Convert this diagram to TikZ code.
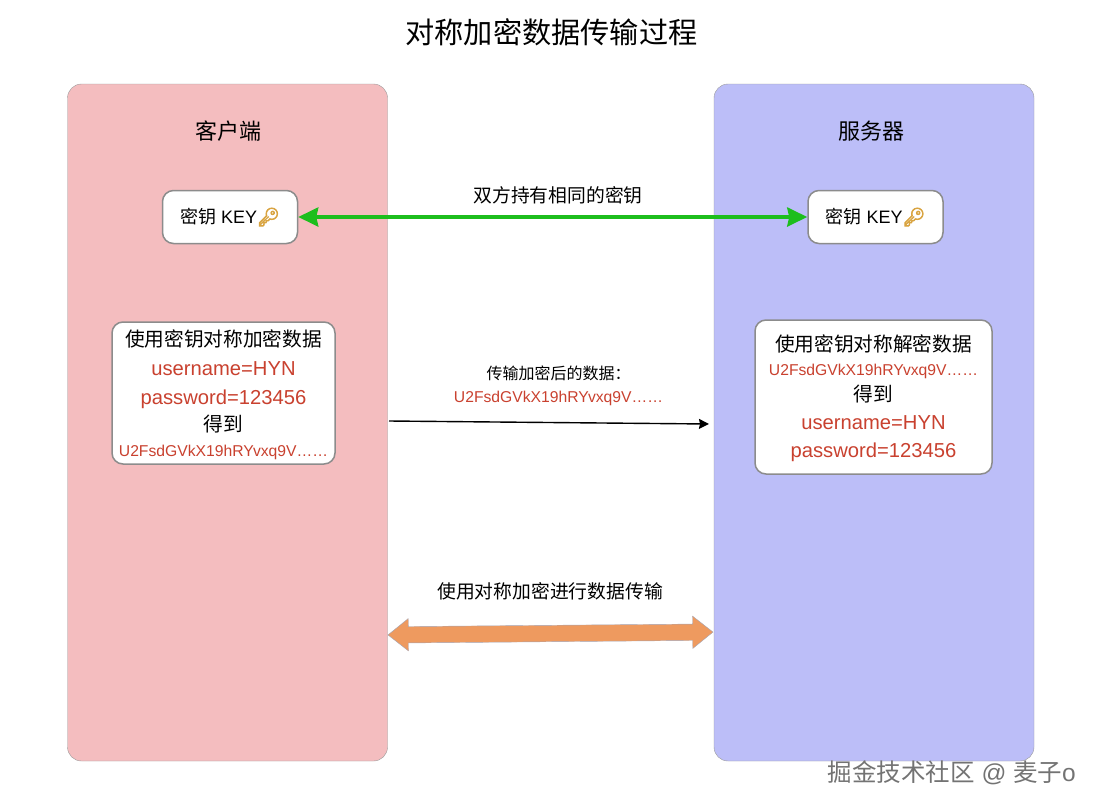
\documentclass[tikz,border=0pt]{standalone}
\usepackage{xcolor}
\usepackage{fontspec}
\setmainfont{Liberation Sans}
\newfontfamily\cjk{Noto Sans CJK SC}
\newfontfamily\emojifont[FakeBold=4]{Noto Emoji}
\usetikzlibrary{positioning,arrows.meta,shapes.arrows}
\definecolor{symPink}{HTML}{F4BDBF}
\definecolor{symBlue}{HTML}{BCBEF8}
\definecolor{symEdge}{HTML}{9A9A9A}
\definecolor{symBorder}{HTML}{8C8C8C}
\definecolor{symGreen}{HTML}{1DBE1D}
\definecolor{symRed}{HTML}{C9412F}
\definecolor{symOrange}{HTML}{EE9A5F}
\definecolor{symGold}{HTML}{D9A441}
\newcommand{\cn}[1]{{\cjk #1}}
\newcommand{\secret}[1]{{\fontsize{15.7}{26}\selectfont\color{symRed}#1}}
\newcommand{\plain}[1]{{\fontsize{20.2}{28}\selectfont\color{symRed}#1}}
\newcommand{\keyicon}{{\emojifont\color{symGold}\symbol{"1F511}}}
\tikzset{
  panel/.style={draw=symEdge,rounded corners=14pt,minimum width=320pt,minimum height=677pt,inner sep=0pt},
  keybox/.style={draw=symBorder,line width=1.5pt,fill=white,rounded corners=11pt,minimum width=135pt,minimum height=53pt,inner sep=0pt,font=\fontsize{18}{22}\selectfont},
  databox/.style={draw=symBorder,line width=1.5pt,fill=white,rounded corners=11pt,inner sep=0pt,align=center,font=\fontsize{19.7}{28}\selectfont},
  caption/.style={inner sep=0pt,font=\fontsize{18.8}{22}\selectfont}
}

\begin{document}
\begin{tikzpicture}[x=1pt,y=-1pt]
  \useasboundingbox (0,0) rectangle (1098,809);
  \node[inner sep=0pt,font=\fontsize{29.2}{34}\selectfont] (heading) at (551.5,32) {\cn{对称加密数据传输过程}};
  \node[panel,fill=symPink] (client) at (227.5,422.5) {};
  \node[panel,fill=symBlue] (server) at (874,422.5) {};
  \node[inner sep=0pt,font=\fontsize{22}{26}\selectfont] (clientTitle) at (228.5,131) {\cn{客户端}};
  \node[inner sep=0pt,font=\fontsize{22}{26}\selectfont] (serverTitle) at (871,131) {\cn{服务器}};
  \node[keybox] (clientKey) at (230,217) {\cn{密钥} KEY\keyicon};
  \node[keybox,right=509pt of clientKey] (serverKey) {\cn{密钥} KEY\keyicon};
  \node[databox,minimum width=223pt,minimum height=142pt] (clientData) at (223.5,393) {%
    \rule{0pt}{21pt}\cn{使用密钥对称加密数据}\\[1pt]
    \plain{username=HYN}\\[1pt]
    \plain{password=123456}\\[-1pt]
    \cn{得到}\\[-3pt]
    \secret{U2FsdGVkX19hRYvxq9V……}};
  \node[databox,minimum width=237pt,minimum height=154pt] (serverData) at (873.5,397) {%
    \rule{0pt}{20pt}\cn{使用密钥对称解密数据}\\[-4pt]
    \secret{U2FsdGVkX19hRYvxq9V……}\\[-2pt]
    \cn{得到}\\
    \plain{username=HYN}\\
    \plain{password=123456}};
  \node[caption] (shareLabel) at (558,195) {\cn{双方持有相同的密钥}};
  \node[inner sep=0pt,align=center,font=\fontsize{16}{23}\selectfont] (sendLabel) at (558.5,385.5) {%
    \cn{传输加密后的数据：}\\ \secret{U2FsdGVkX19hRYvxq9V……}};
  \node[caption] (transferLabel) at (550,591) {\cn{使用对称加密进行数据传输}};
  \coordinate (sendStart) at (389,421);
  \coordinate (sendEnd) at (709,424);
  \draw[-{Stealth[length=10pt,width=10pt,inset=1pt]},line width=1.4pt] (sendStart) -- (sendEnd);
  \draw[{Stealth[length=20pt,width=19pt,inset=2pt]}-{Stealth[length=20pt,width=19pt,inset=2pt]},symGreen,line width=3.5pt] (clientKey) -- (serverKey);
  \node[double arrow,draw=symEdge!70!symBlue,fill=symOrange,rotate=0.5,minimum height=325pt,minimum width=32pt,inner sep=0pt,
    double arrow head extend=8pt,double arrow tip angle=77] (bothWays) at (550.5,633.5) {\rule{0pt}{16pt}};
  \node[inner sep=0pt,anchor=east,text=black!55,font=\fontsize{24.5}{28}\selectfont] (watermark) at (1076,773) {\cn{掘金技术社区} @ \cn{麦子}o};
\end{tikzpicture}
\end{document}
